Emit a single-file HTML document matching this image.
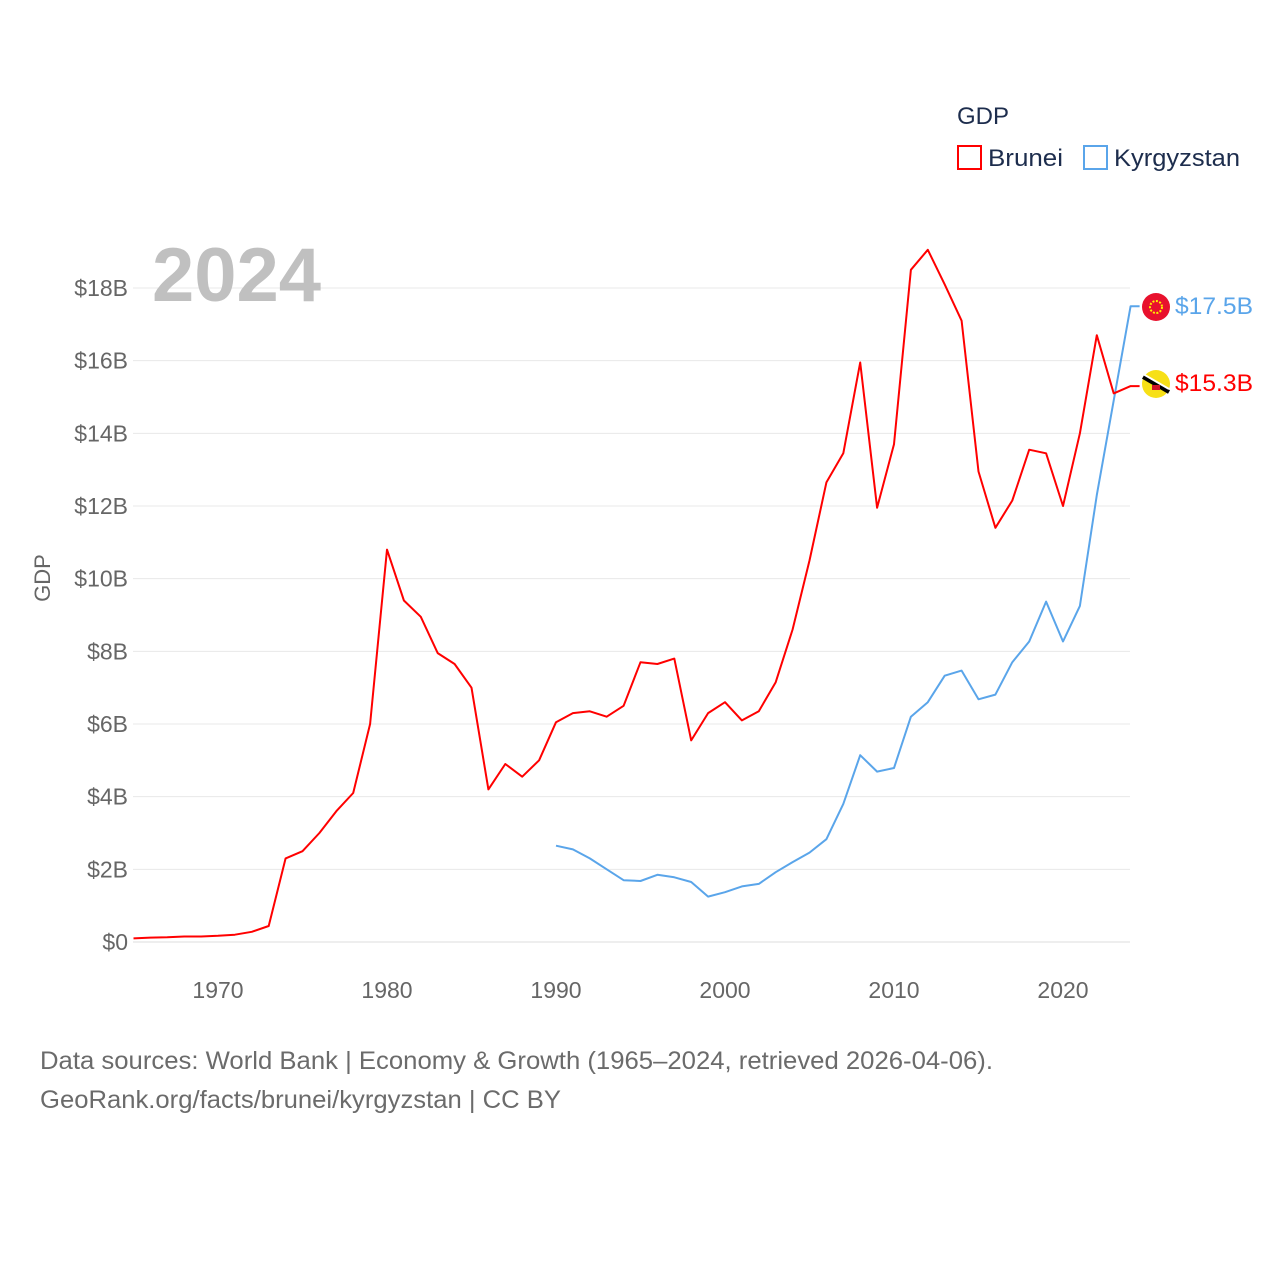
<!DOCTYPE html>
<html><head><meta charset="utf-8"><style>
html,body{margin:0;padding:0;background:#fff;}
body{width:1280px;height:1280px;overflow:hidden;font-family:"Liberation Sans",sans-serif;}
</style></head><body>
<svg id="chart" width="1280" height="1280" xmlns="http://www.w3.org/2000/svg" font-family="Liberation Sans, sans-serif">
<text x="957" y="124" font-size="24" fill="#1d2d4d">GDP</text>
<g><rect x="958" y="146" width="23" height="23" fill="none" stroke="#ff0000" stroke-width="2"/><text x="988" y="166" font-size="24" fill="#1d2d4d" textLength="75" lengthAdjust="spacingAndGlyphs">Brunei</text></g>
<g><rect x="1084" y="146" width="23" height="23" fill="none" stroke="#5aa5ea" stroke-width="2"/><text x="1114" y="166" font-size="24" fill="#1d2d4d" textLength="126" lengthAdjust="spacingAndGlyphs">Kyrgyzstan</text></g>
<g id="grid"></g>
<text x="152" y="301" font-size="76" font-weight="bold" fill="#c0c0c0">2024</text>
<text transform="translate(50,578) rotate(-90)" text-anchor="middle" font-size="22" fill="#666">GDP</text>
<g id="series"></g>
<g>
<circle cx="1156" cy="307" r="14" fill="#e8112d"/><circle cx="1156" cy="307" r="6" fill="none" stroke="#ffef00" stroke-width="2" stroke-dasharray="2 1.5"/>
<text x="1175" y="314" font-size="24" fill="#5aa5ea" textLength="78" lengthAdjust="spacingAndGlyphs">$17.5B</text></g>
<g>
<circle cx="1156" cy="384" r="14" fill="#f7e017"/>
<path d="M1143 377 L1169 392" stroke="#000" stroke-width="4"/><path d="M1143 374 L1169 389" stroke="#fff" stroke-width="2"/>
<path d="M1152 385 h8 v5 h-8z" fill="#cf1126"/>
<text x="1175" y="391" font-size="24" fill="#ff0000" textLength="78" lengthAdjust="spacingAndGlyphs">$15.3B</text></g>
<text x="40" y="1069" font-size="25" fill="#6b6b6b" textLength="953" lengthAdjust="spacingAndGlyphs">Data sources: World Bank | Economy &amp; Growth (1965–2024, retrieved 2026-04-06).</text>
<text x="40" y="1108" font-size="25" fill="#6b6b6b" textLength="521" lengthAdjust="spacingAndGlyphs">GeoRank.org/facts/brunei/kyrgyzstan | CC BY</text>
</svg>
<script>
const bruneiYears=[1965,1966,1967,1968,1969,1970,1971,1972,1973,1974,1975,1976,1977,1978,1979,1980,1981,1982,1983,1984,1985,1986,1987,1988,1989,1990,1991,1992,1993,1994,1995,1996,1997,1998,1999,2000,2001,2002,2003,2004,2005,2006,2007,2008,2009,2010,2011,2012,2013,2014,2015,2016,2017,2018,2019,2020,2021,2022,2023,2024];
const bruneiGdp=[0.1,0.12,0.13,0.15,0.15,0.17,0.2,0.28,0.44,2.3,2.5,3.0,3.6,4.1,6.0,10.8,9.4,8.95,7.95,7.65,7.0,4.2,4.9,4.55,5.0,6.05,6.3,6.35,6.2,6.5,7.7,7.65,7.8,5.55,6.3,6.6,6.1,6.35,7.15,8.6,10.5,12.65,13.45,15.95,11.95,13.7,18.5,19.05,18.1,17.1,12.95,11.4,12.15,13.55,13.45,12.0,14.0,16.7,15.1,15.3];
const kyrgyzYears=[1990,1991,1992,1993,1994,1995,1996,1997,1998,1999,2000,2001,2002,2003,2004,2005,2006,2007,2008,2009,2010,2011,2012,2013,2014,2015,2016,2017,2018,2019,2020,2021,2022,2023,2024];
const kyrgyzGdp=[2.65,2.55,2.3,2.0,1.7,1.68,1.85,1.78,1.65,1.25,1.37,1.53,1.6,1.92,2.2,2.46,2.83,3.8,5.14,4.69,4.79,6.2,6.6,7.33,7.47,6.68,6.81,7.7,8.27,9.37,8.27,9.25,12.3,14.9,17.5];
const yTicks=[0,2,4,6,8,10,12,14,16,18];
const yTickLabels=["$0","$2B","$4B","$6B","$8B","$10B","$12B","$14B","$16B","$18B"];
const xTicks=[1970,1980,1990,2000,2010,2020];
const NS="http://www.w3.org/2000/svg";
const X=yr=>133.5+(yr-1965)*(1130.6-133.5)/59;
const Y=v=>942-v*(942-288)/18;
const grid=document.getElementById('grid'),series=document.getElementById('series');
function mk(t,a,p){const e=document.createElementNS(NS,t);for(const k in a)e.setAttribute(k,a[k]);p.appendChild(e);return e;}
yTicks.forEach((v,i)=>{
 const l=mk('line',{x1:133,x2:1130,y1:Y(v),y2:Y(v),stroke:v===0?'#ddd':'#e8e8e8','stroke-width':1},grid);
 
 
 const t=mk('text',{x:128,y:Y(v)+8,'text-anchor':'end','font-size':23,fill:'#666'},grid);
 t.textContent=yTickLabels[i];
 
 
});
xTicks.forEach(v=>{
 const t=mk('text',{x:X(v),y:998,'text-anchor':'middle','font-size':23,fill:'#666'},grid);
 t.textContent=v;
 
 
});
function line(years,vals,color,name){
 let d=years.map((y,i)=>(i?'L':'M')+X(y).toFixed(1)+' '+Y(vals[i]).toFixed(1)).join(' ');
 d+=' L'+(X(years[years.length-1])+9)+' '+Y(vals[vals.length-1]).toFixed(1);
 const p=mk('path',{d:d,fill:'none',stroke:color,'stroke-width':2,'stroke-linejoin':'round'},series);
 
 
}
line(kyrgyzYears,kyrgyzGdp,'#5aa5ea','kyrgyzstan-line');
line(bruneiYears,bruneiGdp,'#ff0000','brunei-line');
</script>
</body></html>
